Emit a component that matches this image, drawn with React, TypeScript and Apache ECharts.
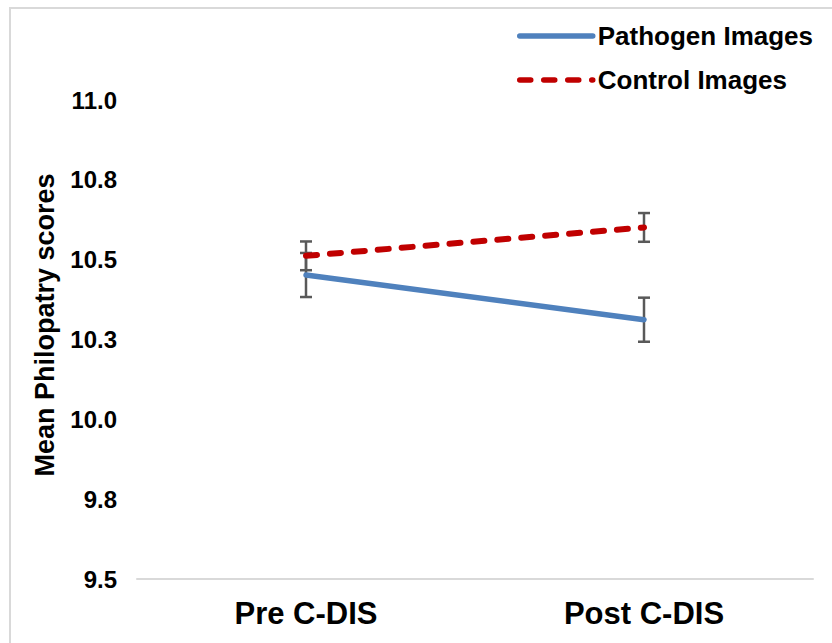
import React, { useEffect, useRef } from "react";
import * as echarts from "echarts";

const categories = ["Pre C-DIS", "Post C-DIS"];
const pathogenMeans = [10.452, 10.312];
const pathogenErrors = [0.069, 0.069];
const controlMeans = [10.512, 10.601];
const controlErrors = [0.045, 0.045];
const yMin = 9.5;
const yMax = 11.0;
const yInterval = 0.25;

const FONT = "'Liberation Sans', Arial, sans-serif";

export default function App() {
  const ref = useRef<HTMLDivElement>(null);

  useEffect(() => {
    document.body.style.margin = "0";
    const chart = echarts.init(ref.current!, null, { renderer: "svg" });

    const errData = (means: number[], errs: number[]) =>
      means.map((m, i) => [i, m - errs[i], m + errs[i]]);

    const renderErr = (params: any, api: any) => {
      const x = api.value(0);
      const lo = api.coord([x, api.value(1)]);
      const hi = api.coord([x, api.value(2)]);
      const hw = 6;
      const style = { stroke: "#595959", lineWidth: 2.5 };
      return {
        type: "group",
        children: [
          { type: "line", shape: { x1: lo[0], y1: lo[1], x2: hi[0], y2: hi[1] }, style },
          { type: "line", shape: { x1: lo[0] - hw, y1: lo[1], x2: lo[0] + hw, y2: lo[1] }, style },
          { type: "line", shape: { x1: hi[0] - hw, y1: hi[1], x2: hi[0] + hw, y2: hi[1] }, style },
        ],
      };
    };

    chart.setOption({
      animation: false,
      backgroundColor: "#ffffff",
      grid: { left: 137, right: 19, top: 100, bottom: 64 },
      legend: {
        orient: "vertical",
        left: 512,
        top: 16,
        itemWidth: 73,
        itemHeight: 14,
        itemGap: 14,
        itemStyle: { opacity: 0 },
        lineStyle: { width: 5.5, cap: "round" },
        textStyle: {
          fontFamily: FONT,
          fontWeight: "bold",
          fontSize: 26,
          lineHeight: 30,
          color: "#000",
        },
        data: ["Pathogen Images", "Control Images"],
      },
      xAxis: {
        type: "category",
        data: categories,
        boundaryGap: true,
        axisLine: { lineStyle: { color: "#d9d9d9", width: 2 } },
        axisTick: { length: 9, lineStyle: { color: "#d9d9d9", width: 2 } },
        axisLabel: { fontFamily: FONT, fontWeight: "bold", fontSize: 31, color: "#000", margin: 19 },
        splitLine: { show: false },
      },
      yAxis: {
        type: "value",
        min: yMin,
        max: yMax,
        interval: yInterval,
        axisLine: { show: false },
        axisTick: { show: false },
        splitLine: { show: false },
        axisLabel: {
          fontFamily: FONT,
          fontWeight: "bold",
          fontSize: 24,
          color: "#000",
          margin: 20,
          formatter: (v: number) => v.toFixed(1),
        },
      },
      graphic: [
        {
          type: "rect",
          shape: { x: 10, y: 8, width: 900, height: 700 },
          style: { fill: "none", stroke: "#d9d9d9", lineWidth: 2 },
          silent: true,
        },
        {
          type: "text",
          x: 45,
          y: 325,
          rotation: Math.PI / 2,
          style: {
            text: "Mean Philopatry scores",
            fontFamily: FONT,
            fontWeight: "bold",
            fontSize: 27,
            fill: "#000",
            align: "center",
            verticalAlign: "middle",
          },
        },
      ],
      series: [
        {
          type: "custom",
          name: "pathogenErr",
          renderItem: renderErr,
          data: errData(pathogenMeans, pathogenErrors),
          z: 1,
          silent: true,
        },
        {
          type: "custom",
          name: "controlErr",
          renderItem: renderErr,
          data: errData(controlMeans, controlErrors),
          z: 1,
          silent: true,
        },
        {
          type: "line",
          name: "Pathogen Images",
          data: pathogenMeans,
          symbol: "none",
          z: 3,
          lineStyle: { color: "#4f81bd", width: 5.5, cap: "round" },
          itemStyle: { color: "#4f81bd" },
        },
        {
          type: "line",
          name: "Control Images",
          data: controlMeans,
          symbol: "none",
          z: 3,
          lineStyle: { color: "#c00000", width: 6, type: [11, 13], cap: "round" },
          itemStyle: { color: "#c00000" },
        },
      ],
    });

    return () => chart.dispose();
  }, []);

  return <div ref={ref} style={{ width: 832, height: 643 }} />;
}
